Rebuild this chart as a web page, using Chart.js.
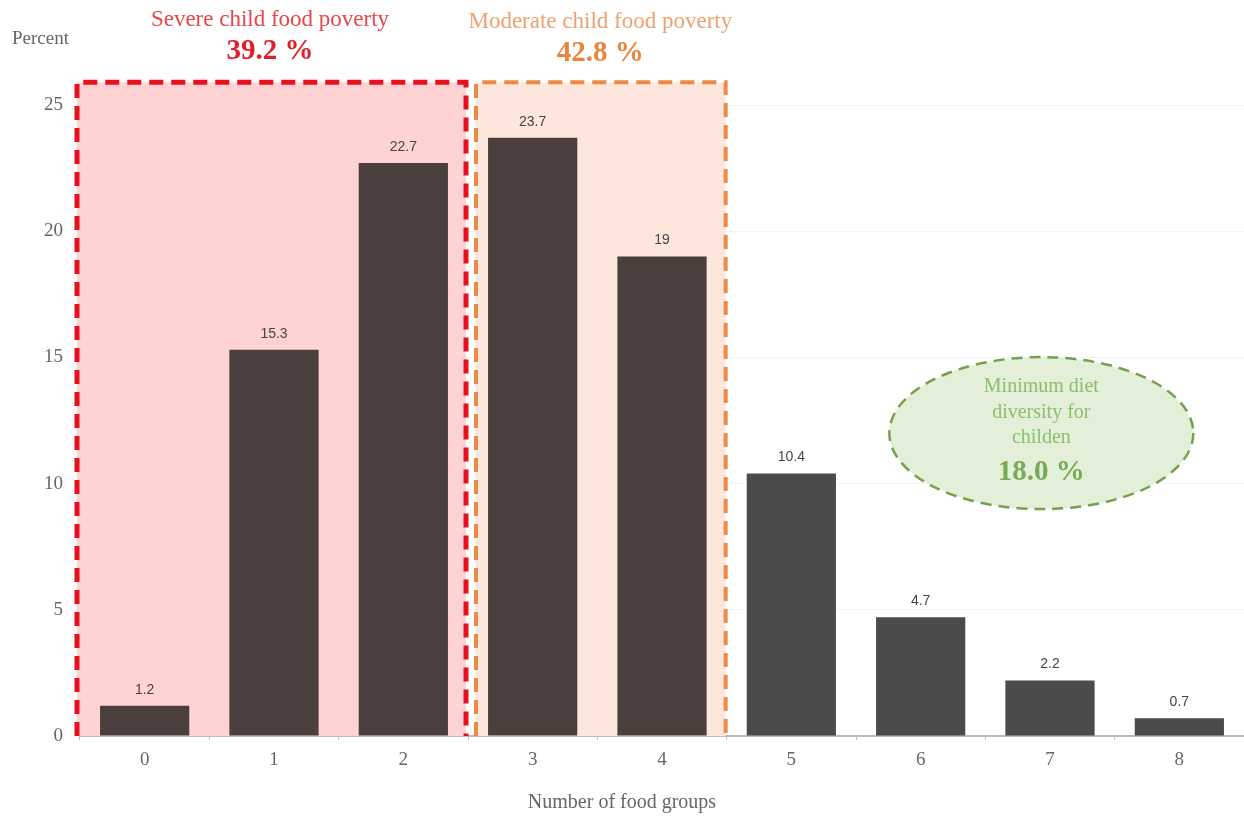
<meta charset="UTF-8">
<style>
  html, body { margin: 0; padding: 0; background: #fff; }
  #wrap { width: 1244px; height: 819px; }
</style>
<div id="wrap"><canvas id="myChart" width="1244" height="819"></canvas></div>

<script src="https://cdn.jsdelivr.net/npm/chart.js@4/dist/chart.umd.min.js"></script>

<script>
    var foodGroups = ['0', '1', '2', '3', '4', '5', '6', '7', '8'];
    var percentValues = [1.2, 15.3, 22.7, 23.7, 19, 10.4, 4.7, 2.2, 0.7];
    var yTicks = [0, 5, 10, 15, 20, 25];
    var barColors = ['#4a3f3d', '#4a3f3d', '#4a3f3d', '#4a3f3d', '#4a3f3d', '#4b4b4b', '#4b4b4b', '#4b4b4b', '#4b4b4b'];

    var serif = '"Liberation Serif", "DejaVu Serif", serif';
    var sans = '"Liberation Sans", Arial, sans-serif';

    // coloured boxes, titles and the green ellipse
    var overlayPlugin = {
        id: 'overlay',
        beforeDatasetsDraw: function (chart) {
            var ctx = chart.ctx;
            var x = chart.scales.x, y = chart.scales.y;
            var half = (x.getPixelForValue(1) - x.getPixelForValue(0)) / 2;
            var top = y.getPixelForValue(25.9);
            var bottom = y.getPixelForValue(0);

            function box(fromIdx, toIdx, fill, stroke, lw, padL, padR) {
                var l = x.getPixelForValue(fromIdx) - half + padL;
                var r = x.getPixelForValue(toIdx) + half + padR;
                ctx.save();
                ctx.fillStyle = fill;
                ctx.fillRect(l, top, r - l, bottom - top);
                ctx.setLineDash([14, 8]);
                ctx.lineWidth = lw;
                ctx.strokeStyle = stroke;
                ctx.beginPath();
                ctx.moveTo(l, bottom);
                ctx.lineTo(l, top);
                ctx.lineTo(r, top);
                ctx.lineTo(r, bottom);
                ctx.stroke();
                ctx.restore();
            }
            box(0, 2, '#ffd3d3', '#e8101e', 5, -3, -2);
            box(3, 4, '#fde7dc', '#ee8a45', 4, 8, -1);
        },
        afterDraw: function (chart) {
            var ctx = chart.ctx;
            var x = chart.scales.x, y = chart.scales.y;
            ctx.save();
            ctx.textAlign = 'center';
            ctx.textBaseline = 'middle';

            // headers above the boxes
            var c1 = (x.getPixelForValue(0) + x.getPixelForValue(2)) / 2;
            var c2 = (x.getPixelForValue(3) + x.getPixelForValue(4)) / 2;
            ctx.font = '23px ' + serif;
            ctx.fillStyle = '#e8454a';
            ctx.fillText('Severe child food poverty', c1 - 4, 20);
            ctx.font = 'bold 29px ' + serif;
            ctx.fillStyle = '#e21f26';
            ctx.fillText('39.2 %', c1 - 4, 52);
            ctx.font = '23px ' + serif;
            ctx.fillStyle = '#f0a070';
            ctx.fillText('Moderate child food poverty', c2 + 3, 22);
            ctx.font = 'bold 29px ' + serif;
            ctx.fillStyle = '#e8843c';
            ctx.fillText('42.8 %', c2 + 3, 54);

            // "Percent" label
            ctx.font = '19px ' + serif;
            ctx.fillStyle = '#666';
            ctx.textAlign = 'left';
            ctx.fillText('Percent', 12, 39);

            // x axis title
            ctx.textAlign = 'center';
            ctx.font = '20px ' + serif;
            ctx.fillText('Number of food groups', 622, 803);

            // ellipse
            var ex = (x.getPixelForValue(6) + x.getPixelForValue(7)) / 2 + 56;
            var ey = y.getPixelForValue(12);
            ctx.beginPath();
            ctx.ellipse(ex, ey, 152, 76, 0, 0, Math.PI * 2);
            ctx.fillStyle = '#e3efd8';
            ctx.fill();
            ctx.setLineDash([11, 7]);
            ctx.lineWidth = 2.5;
            ctx.strokeStyle = '#76a04e';
            ctx.stroke();
            ctx.setLineDash([]);
            ctx.fillStyle = '#8cbf6c';
            ctx.font = '20px ' + serif;
            ctx.fillText('Minimum diet', ex, ey - 46);
            ctx.fillText('diversity for', ex, ey - 20);
            ctx.fillText('childen', ex, ey + 5);
            ctx.font = 'bold 29px ' + serif;
            ctx.fillStyle = '#77ab55';
            ctx.fillText('18.0 %', ex, ey + 39);
            ctx.restore();
        }
    };

    // value labels on top of each bar
    var valueLabels = {
        id: 'valueLabels',
        afterDatasetsDraw: function (chart) {
            var ctx = chart.ctx;
            var meta = chart.getDatasetMeta(0);
            ctx.save();
            ctx.font = '14px ' + sans;
            ctx.fillStyle = '#444';
            ctx.textAlign = 'center';
            ctx.textBaseline = 'bottom';
            meta.data.forEach(function (bar, i) {
                ctx.fillText(String(percentValues[i]), bar.x, bar.y - 9);
            });
            ctx.restore();
        }
    };

    var ctx = document.getElementById('myChart').getContext('2d');
    var chart = new Chart(ctx, {
        type: 'bar',
        data: {
            labels: foodGroups,
            datasets: [{
                label: 'Percent',
                data: percentValues,
                backgroundColor: barColors,
                barPercentage: 0.69,
                categoryPercentage: 1.0
            }]
        },
        options: {
            responsive: false,
            animation: false,
            layout: { padding: { top: 105, right: 0, bottom: 0, left: 0 } },
            plugins: {
                legend: { display: false },
                tooltip: { enabled: false }
            },
            scales: {
                x: {
                    afterFit: function (scale) { scale.height = 83; },
                    grid: { drawOnChartArea: false, tickLength: 4, color: '#bbb' },
                    border: { color: '#bbb', width: 2 },
                    ticks: { color: '#666', font: { family: serif, size: 19 }, padding: 9 }
                },
                y: {
                    min: 0,
                    max: 25,
                    afterFit: function (scale) { scale.width = 80; },
                    afterBuildTicks: function (scale) {
                        scale.ticks = yTicks.map(function (v) { return { value: v }; });
                    },
                    grid: { color: '#f3f3f3', drawTicks: false },
                    border: { display: false },
                    ticks: { color: '#666', font: { family: serif, size: 19 }, padding: 17 }
                }
            }
        },
        plugins: [overlayPlugin, valueLabels]
    });
</script>
